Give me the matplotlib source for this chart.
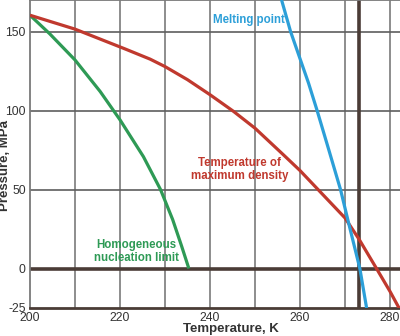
import matplotlib
matplotlib.use("Agg")
import matplotlib.pyplot as plt

plt.rcParams['font.family'] = ['Liberation Sans', 'DejaVu Sans']
plt.rcParams['axes.unicode_minus'] = False

# Data
melt_T = [255.9, 257.9, 261.9, 263.8, 266.4, 269.0, 270.7, 273.3, 274.8]
melt_P = [170, 150, 117.3, 100, 75.1, 50, 30, 0, -25]

tmd_T = [200, 210, 221.1, 226.7, 230, 235, 240, 245.2, 250, 256.3, 260, 264.0, 270, 273.15, 277.0, 280, 282.2, 283.5]
tmd_P = [160.3, 151.5, 139.0, 132.5, 127.8, 119.5, 110.0, 99.5, 88.8, 72.0, 62.0, 50, 32.0, 18.4, 0, -14.5, -26, -33]

hom_T = [200, 204.4, 210, 215.6, 220, 225.2, 229.0, 231.7, 233.7, 235.3]
hom_P = [160.3, 148.5, 132, 112, 94.1, 70.8, 50, 31, 14.1, 0]

x_ticks = [200, 220, 240, 260, 280]
y_ticks = [-25, 0, 50, 100, 150]
x_grid = [210, 220, 230, 240, 250, 260, 270, 280]
y_grid = [50, 100, 150]

fig = plt.figure(figsize=(4.0, 3.36), dpi=100)
ax = fig.add_axes([30/400, 1-308/336, 372/400, 308/336])
ax.set_xlim(200, 200 + 372/4.5)
ax.set_ylim(-25, -25 + 308/1.58)

grid_c = '#7a7a7a'
dark = '#4a3c36'
for x in x_grid:
    ax.axvline(x, color=grid_c, lw=1.2, zorder=1)
for y in y_grid:
    ax.axhline(y, color='#5e5e5e', lw=1.2, zorder=1)
ax.axhline(0, color=dark, lw=2.6, zorder=2)
ax.axvline(273.15, color=dark, lw=2.6, zorder=2)

ax.plot(hom_T, hom_P, color='#2e9a55', lw=2.3, zorder=3, solid_capstyle='butt', solid_joinstyle='round')
ax.plot(tmd_T, tmd_P, color='#c0392e', lw=2.3, zorder=3, solid_capstyle='butt', solid_joinstyle='round')
ax.plot(melt_T, melt_P, color='#2c9fd8', lw=2.3, zorder=4, solid_capstyle='butt', solid_joinstyle='round')

ax.set_xticks(x_ticks)
ax.set_yticks(y_ticks)
ax.tick_params(length=0, labelsize=8.8, labelcolor='#333333', pad=3)
for s in ['top', 'left']:
    ax.spines[s].set_color(grid_c)
    ax.spines[s].set_linewidth(1.3)
ax.spines['right'].set_visible(False)
ax.spines['bottom'].set_color(dark)
ax.spines['bottom'].set_linewidth(2.0)

ax.set_xlabel('Temperature, K', fontsize=9.5, fontweight='bold', color='#333333')
ax.xaxis.set_label_coords(0.54, -0.05)
ax.set_ylabel('Pressure, MPa', fontsize=9.5, fontweight='bold', color='#333333')
ax.yaxis.set_label_coords(-0.05, 0.464)

ax.text(248.7, 157.3, 'Melting point', color='#2c9fd8', fontsize=8.3, fontweight='bold',
        ha='center', va='center')
ax.text(246.5, 62.5, 'Temperature of\nmaximum density', color='#c0392e', fontsize=8.3,
        fontweight='bold', ha='center', va='center', linespacing=1.1)
ax.text(223.6, 10.8, 'Homogeneous\nnucleation limit', color='#2e9a55', fontsize=8.3,
        fontweight='bold', ha='center', va='center', linespacing=1.1)

fig.savefig('out.png', dpi=100)
